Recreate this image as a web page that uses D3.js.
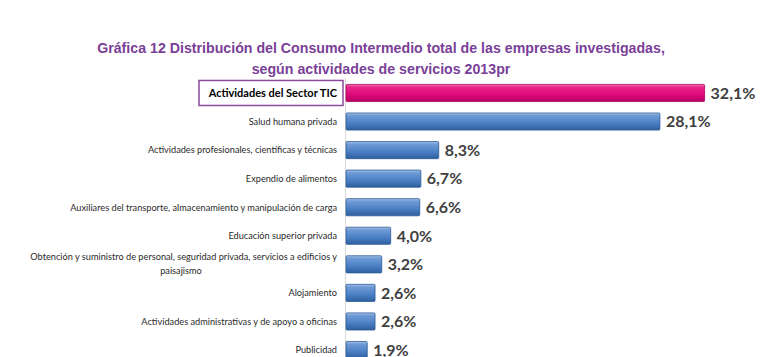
<!DOCTYPE html>
<html><head><meta charset="utf-8">
<script src="https://cdn.jsdelivr.net/npm/d3@7"></script>
<style>html,body{margin:0;padding:0;background:#fff;overflow:hidden}</style>
</head><body>
<svg id="c" width="767" height="357"></svg>
<script>
const titleLines = ["Gráfica 12 Distribución del Consumo Intermedio total de las empresas investigadas,",
                    "según actividades de servicios 2013pr"];
const categories = [
  "Actividades del Sector TIC",
  "Salud humana privada",
  "Actividades profesionales, científicas y técnicas",
  "Expendio de alimentos",
  "Auxiliares del transporte, almacenamiento y manipulación de carga",
  "Educación superior privada",
  "Obtención y suministro de personal, seguridad privada, servicios a edificios y|paisajismo",
  "Alojamiento",
  "Actividades administrativas y de apoyo a oficinas",
  "Publicidad"
];
const values = [32.1, 28.1, 8.3, 6.7, 6.6, 4.0, 3.2, 2.6, 2.6, 1.9];
const valueLabels = ["32,1%","28,1%","8,3%","6,7%","6,6%","4,0%","3,2%","2,6%","2,6%","1,9%"];

const svg = d3.select("#c");
const defs = svg.append("defs");
const gb = defs.append("linearGradient").attr("id","gBlue").attr("x1",0).attr("y1",0).attr("x2",0).attr("y2",1);
[[0,"#a9c4ea"],[0.15,"#6f9bd6"],[0.6,"#4a7fc4"],[1,"#2f5f9e"]].forEach(s=>gb.append("stop").attr("offset",s[0]).attr("stop-color",s[1]));
const gp = defs.append("linearGradient").attr("id","gPink").attr("x1",0).attr("y1",0).attr("x2",0).attr("y2",1);
[[0,"#f07ab4"],[0.15,"#e8288a"],[0.6,"#e0097a"],[1,"#b30060"]].forEach(s=>gp.append("stop").attr("offset",s[0]).attr("stop-color",s[1]));

svg.append("g").selectAll("text").data(titleLines).join("text")
  .attr("x",381).attr("y",(d,i)=>53+i*21)
  .attr("text-anchor","middle")
  .attr("font-family","Liberation Sans, Arial, sans-serif")
  .attr("font-weight","bold").attr("font-size",14.2)
  .attr("fill","#7a3f98")
  .text(d=>d);

const x = d3.scaleLinear().domain([0,35]).range([346,737]);
const y = d3.scaleBand().domain(categories).range([78.7,364.3]).paddingInner(0.4).paddingOuter(0.2);

svg.append("line").attr("x1",345.5).attr("x2",345.5).attr("y1",79).attr("y2",357)
  .attr("stroke","#d9d9d9").attr("stroke-width",1);

svg.append("g").selectAll("rect").data(categories).join("rect")
  .attr("x",x(0)).attr("y",d=>y(d))
  .attr("width",(d,i)=>x(values[i])-x(0)).attr("height",y.bandwidth())
  .attr("fill",(d,i)=>i===0?"url(#gPink)":"url(#gBlue)")
  .attr("stroke",(d,i)=>i===0?"#a8005a":"#2c5a94").attr("stroke-width",0.8)
  .attr("rx",1);

svg.append("g").selectAll("text").data(categories).join("text")
  .attr("x",(d,i)=>x(values[i])+6)
  .attr("y",d=>y(d)+y.bandwidth()/2)
  .attr("dy","0.36em")
  .attr("font-family","Lato, Open Sans, sans-serif")
  .attr("font-weight","bold").attr("font-size",16)
  .attr("fill","#404040")
  .text((d,i)=>valueLabels[i]);

// TIC highlighted label box
const y0 = y(categories[0])+y.bandwidth()/2;
svg.append("rect").attr("x",199).attr("y",y0-12.5).attr("width",144).attr("height",25)
  .attr("fill","#fff").attr("stroke","#8b4a9c").attr("stroke-width",1.5);
svg.append("text").attr("x",337).attr("y",y0).attr("dy","0.36em")
  .attr("text-anchor","end")
  .attr("font-family","Lato, Open Sans, sans-serif").attr("font-weight","bold").attr("font-size",11)
  .attr("fill","#000").text(categories[0]);

const lab = svg.append("g").selectAll("text").data(categories.slice(1)).join("text")
  .attr("text-anchor","end")
  .attr("font-family","Lato, Open Sans, sans-serif").attr("font-size",9.2)
  .attr("fill","#2b2b2b");
lab.each(function(d){
  const parts = d.split("|");
  const cy = y(d)+y.bandwidth()/2;
  const t = d3.select(this);
  if(parts.length===1){
    t.append("tspan").attr("x",337).attr("y",cy).attr("dy","0.36em").text(d);
  } else {
    t.append("tspan").attr("x",337).attr("y",cy-7.5).attr("dy","0.36em").text(parts[0]);
    t.append("tspan").attr("x",181).attr("text-anchor","middle").attr("y",cy+6.5).attr("dy","0.36em").text(parts[1]);
  }
});
</script>
</body></html>
